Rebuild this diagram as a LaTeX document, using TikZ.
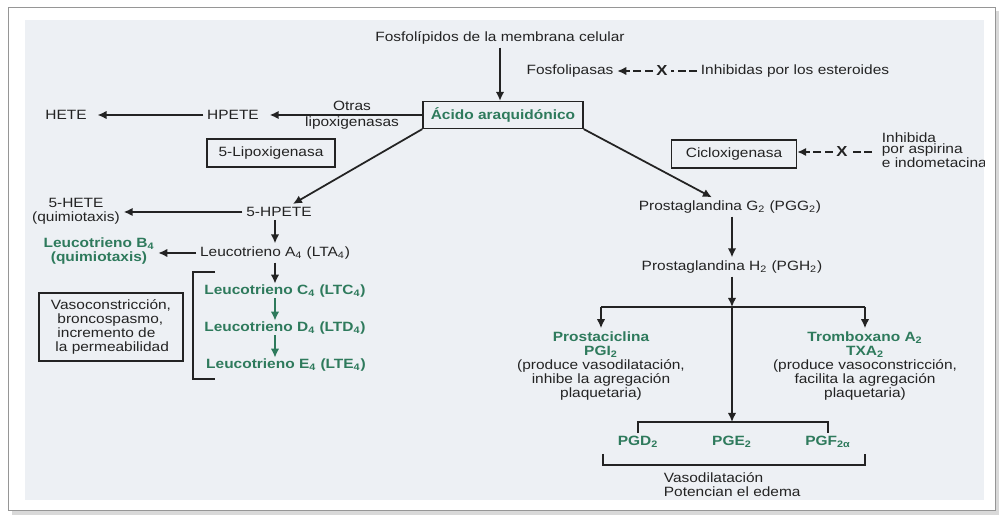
\documentclass[tikz,border=0pt]{standalone}
\usepackage{fontspec}
\setmainfont{Liberation Sans}
\usetikzlibrary{arrows.meta,calc}

\definecolor{txtgray}{RGB}{35,35,35}
\definecolor{leugreen}{RGB}{46,122,92}
\definecolor{panelbg}{RGB}{237,240,244}
\definecolor{framegray}{RGB}{150,150,150}

\newcommand{\leu}[1]{\textcolor{leugreen}{\bfseries #1}}

\tikzset{
  every node/.style={font=\fontsize{8.8}{9.2}\selectfont, text=txtgray, yscale=0.87, inner sep=2pt},
  arr/.style={line width=1pt, draw=txtgray, -{Latex[length=1.8mm,width=1.7mm]}},
  garr/.style={arr, draw=leugreen},
  inhib/.style={line width=1pt, draw=txtgray, dash pattern=on 4.5pt off 2pt},
  bracket/.style={line width=1pt, draw=txtgray},
  enzbox/.style={draw=txtgray, line width=0.8pt, minimum height=6.6mm},
  leuname/.style={text=leugreen, font=\fontsize{8.8}{9.2}\selectfont\bfseries},
  xmark/.style={font=\fontsize{9.5}{10}\selectfont\bfseries},
}

\begin{document}
\begin{tikzpicture}[x=0.2mm, y=-0.2mm]
\useasboundingbox (0,0) rectangle (1000,518);
% Frame
\fill[gray!30] (12,11) rectangle (999,515);
\draw[framegray, fill=white] (8,7) rectangle (995,510);
\fill[panelbg] (25,20) rectangle (984,500);

\begin{scope}
\clip (25,20) rectangle (984,500);

% Fosfolipidos -> acido araquidonico
\node (fosfo) at (500,38) {Fosfolípidos de la membrana celular};
\node[enzbox, leuname, minimum width=32mm, minimum height=6.2mm] (acido) at (503,115) {Ácido araquidónico};
\draw[arr] (fosfo) -- (fosfo |- acido.north);

% Fosfolipasas, inhibidas
\node (fosfolip) at (570,71) {Fosfolipasas};
\node[xmark] (xfos) at (662,71) {X};
\node[anchor=west] (esteroides) at (697,71) {Inhibidas por los esteroides};
\draw[arr, inhib] (xfos) -- (fosfolip);
\draw[inhib] (esteroides) -- (xfos);

% Otras lipoxigenasas
\node (hpete) at (233,115) {HPETE};
\node (hete) at (66,115) {HETE};
\node (otras) at (352,106) {Otras};
\node (otraslip) at (352,123) {lipoxigenasas};
\draw[arr, shorten >=4pt] (acido) -- (hpete);
\draw[arr, shorten >=4pt] (hpete) -- (hete);

% 5-Lipoxigenasa
\node[enzbox, minimum width=25.6mm, minimum height=6.4mm] (lipox5) at (271,153) {5-Lipoxigenasa};
\node (hpete5) at (279,212) {5-HPETE};
\draw[arr] (acido.south west) -- (hpete5);
\node[align=center] (hete5) at (76,211) {5-HETE\\(quimiotaxis)};
\draw[arr] (hpete5) -- (hpete5 -| hete5.east);

% Leucotrienos
\node (lta4) at (275,253) {Leucotrieno A\textsubscript{4} (LTA\textsubscript{4})};
\draw[arr] (lta4 |- hpete5.south) -- (lta4.north);
\node[leuname, align=center] (ltb4) at (99,251) {Leucotrieno B\textsubscript{4}\\(quimiotaxis)};
\draw[arr] (lta4) -- (lta4 -| ltb4.east);
\node[leuname, inner sep=0.5pt] (ltc4) at (285,291) {Leucotrieno C\textsubscript{4} (LTC\textsubscript{4})};
\node[leuname, inner sep=0.5pt] (ltd4) at (285,328) {Leucotrieno D\textsubscript{4} (LTD\textsubscript{4})};
\node[leuname, inner sep=0.5pt] (lte4) at (286,365) {Leucotrieno E\textsubscript{4} (LTE\textsubscript{4})};
\draw[arr] (lta4) -- (lta4 |- ltc4.north);
\draw[garr] (lta4 |- ltc4.south) -- (lta4 |- ltd4.north);
\draw[garr] (lta4 |- ltd4.south) -- (lta4 |- lte4.north);
\draw[bracket] (215,272) -- (193,272) -- (193,379) -- (215,379);
\node[enzbox, minimum width=28.8mm, minimum height=15.6mm, align=left] (vaso) at (111,327)
  {Vasoconstricción,\\\hspace*{1.3mm}broncospasmo,\\\hspace*{1.3mm}incremento de\\\hspace*{0.9mm}la permeabilidad};

% Cicloxigenasa
\node[enzbox, minimum width=25mm, minimum height=6.4mm] (ciclo) at (734,154) {Cicloxigenasa};
\node[xmark] (xcic) at (842,152) {X};
\node[anchor=west, align=left, font=\fontsize{8.8}{7}\selectfont] (aspirina) at (878,150) {Inhibida\\por aspirina\\e indometacina};
\draw[arr, inhib] (xcic) -- (xcic -| ciclo.east);
\draw[inhib] ($(aspirina.west |- xcic)+(-6,0)$) -- (xcic);

% Prostaglandinas
\node (pgg2) at (730,207) {Prostaglandina G\textsubscript{2} (PGG\textsubscript{2})};
\draw[arr] (acido.south east) -- (pgg2);
\node (pgh2) at (732,267) {Prostaglandina H\textsubscript{2} (PGH\textsubscript{2})};
\draw[arr] (pgh2 |- pgg2.south) -- (pgh2);
\coordinate (split) at (732,307);
\draw[arr] (pgh2) -- (split);

\node[align=center] (prosta) at (601,366) {\leu{Prostaciclina}\\\leu{PGI\textsubscript{2}}\\(produce vasodilatación,\\inhibe la agregación\\plaquetaria)};
\node[align=center] (trombo) at (865,366) {\leu{Tromboxano A\textsubscript{2}}\\\leu{TXA\textsubscript{2}}\\(produce vasoconstricción,\\facilita la agregación\\plaquetaria)};
\draw[bracket] (prosta |- split) -- (trombo |- split);
\draw[arr] (prosta |- split) -- (prosta.north);
\draw[arr] (trombo |- split) -- (trombo.north);

% PGD2, PGE2, PGF2a
\node[leuname] (pgd2) at (638,442) {PGD\textsubscript{2}};
\node[leuname] (pge2) at (732,442) {PGE\textsubscript{2}};
\node[leuname] (pgf2) at (828,442) {PGF\textsubscript{2α}};
\coordinate (topbr) at (732,422);
\draw[arr] (split) -- (topbr);
\draw[bracket] (pgd2.north) -- (pgd2.north |- topbr) -- (pgf2.north |- topbr) -- (pgf2.north);
\draw[bracket] (603,454) -- (603,465) -- (865,465) -- (865,454);
\node[anchor=west, align=left] (vasod) at (660,485) {Vasodilatación\\Potencian el edema};

\end{scope}
\end{tikzpicture}
\end{document}
